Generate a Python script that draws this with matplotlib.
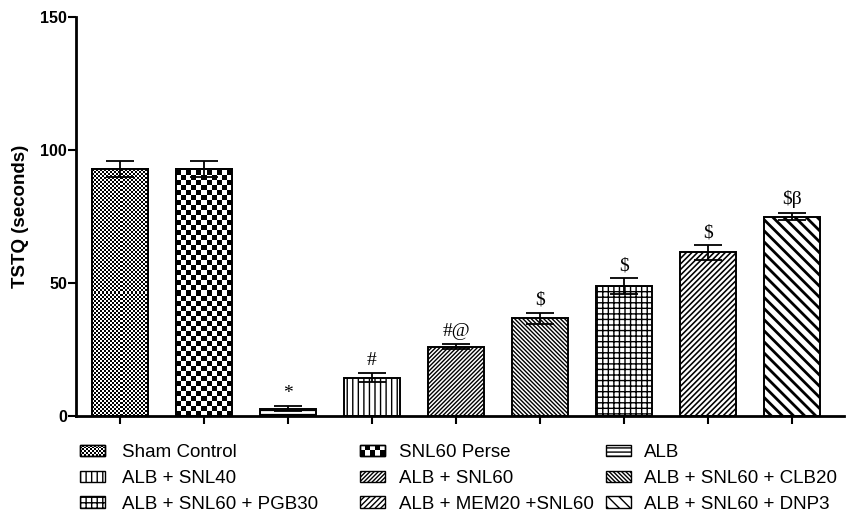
import numpy as np
import matplotlib
matplotlib.use("Agg")
import matplotlib.pyplot as plt
from matplotlib.patches import Patch, Rectangle
from matplotlib.legend_handler import HandlerBase

plt.rcParams["font.family"] = ["Liberation Sans", "DejaVu Sans"]
plt.rcParams["hatch.linewidth"] = 1.0
plt.rcParams["hatch.color"] = "black"

groups = ["Sham Control", "SNL60 Perse", "ALB", "ALB + SNL40", "ALB + SNL60",
          "ALB + SNL60 + CLB20", "ALB + SNL60 + PGB30", "ALB + MEM20 +SNL60",
          "ALB + SNL60 + DNP3"]
means = [93.0, 93.0, 2.8, 14.4, 26.0, 36.7, 48.9, 61.5, 75.0]
sems = [3.0, 3.0, 0.9, 1.6, 0.9, 2.2, 2.9, 2.7, 1.5]
marks = ["", "", "*", "#", "#@", "$", "$", "$", "$\u03b2"]
yticks = [0, 50, 100, 150]

# fill style per group: ("checker", cell_px) or ("hatch", pattern, hatch linewidth)
fills = [("checker", 2, None), ("checker", 5, None), ("hatch", "----", 1.0),
         ("hatch", "|||", 1.0), ("hatch", "////////", 1.0),
         ("hatch", "\\" * 8, 1.0), ("hatch", "+++", 1.0),
         ("hatch", "//////", 1.15), ("hatch", "\\\\\\", 2.0)]

W, H, DPI = 846, 513, 100
fig = plt.figure(figsize=(W / DPI, H / DPI), dpi=DPI)
ax = fig.add_axes([76 / W, 97 / H, 768 / W, 399 / H])
x = np.arange(len(groups))
ax.set_xlim(-0.524, 8.62)
ax.set_ylim(0, 150)

bars = ax.bar(x, means, width=0.67, facecolor="white", edgecolor="black",
              linewidth=1.4, zorder=2)


def checker_array(wpx, hpx, cell):
    xx = np.arange(wpx) // cell
    yy = np.arange(hpx) // cell
    return ((xx[None, :] + yy[:, None]) % 2).astype(float)


for b, (kind, spec, hlw) in zip(bars, fills):
    if kind == "hatch":
        b.set_hatch(spec)
        try:
            b.set_hatch_linewidth(hlw)
        except AttributeError:
            pass
    else:
        x0, y0 = b.get_x(), 0
        x1, y1 = b.get_x() + b.get_width(), b.get_height()
        p0 = ax.transData.transform((x0, y0))
        p1 = ax.transData.transform((x1, y1))
        wpx = int(round(p1[0] - p0[0]))
        hpx = int(round(p1[1] - p0[1]))
        arr = checker_array(wpx, hpx, spec)
        im = ax.imshow(arr, extent=(x0, x1, y0, y1), origin="lower",
                       cmap="gray", vmin=0, vmax=1, interpolation="nearest",
                       aspect="auto", zorder=2.1)
        im.set_clip_path(b)
        # outline above the image
        ax.add_patch(Rectangle((x0, y0), x1 - x0, y1 - y0, fill=False,
                               edgecolor="black", linewidth=1.4, zorder=2.2))

ax.set_xlim(-0.524, 8.62)
ax.set_ylim(0, 150)

ax.errorbar(x, means, yerr=sems, fmt="none", ecolor="black", elinewidth=1.3,
            capsize=10, capthick=1.3, zorder=3)

for xi, m, s, t in zip(x, means, sems, marks):
    if t:
        ax.annotate(t, (xi, m + s), xytext=(0, 3), textcoords="offset points",
                    ha="center", va="bottom", fontsize=14,
                    family=["Liberation Serif", "DejaVu Serif"])

for side in ("top", "right"):
    ax.spines[side].set_visible(False)
for side in ("left", "bottom"):
    ax.spines[side].set_linewidth(2)

ax.set_xticks(x)
ax.set_xticklabels([])
ax.tick_params(axis="x", length=6, width=1.5, direction="out")
ax.set_yticks(yticks)
ax.set_yticklabels([str(v) for v in yticks], fontsize=11.5, fontweight="bold")
ax.tick_params(axis="y", length=6, width=1.5, direction="out", pad=0.5)
ax.set_ylabel("TSTQ (seconds)", fontsize=13.5, fontweight="bold")
ax.yaxis.set_label_coords(-0.061, 0.5)


class CheckerHandler(HandlerBase):
    def __init__(self, cell_pt):
        super().__init__()
        self.cell = cell_pt

    def create_artists(self, legend, orig_handle, xdescent, ydescent,
                       width, height, fontsize, trans):
        x0, y0 = -xdescent, -ydescent
        arts = [Rectangle((x0, y0), width, height, facecolor="white",
                          edgecolor="black", linewidth=1.0, transform=trans)]
        nx = int(round(width / self.cell))
        ny = int(round(height / self.cell))
        cw, ch = width / nx, height / ny
        for i in range(nx):
            for j in range(ny):
                if (i + j) % 2 == 0:
                    arts.append(Rectangle((x0 + i * cw, y0 + j * ch), cw, ch,
                                          facecolor="black", edgecolor="none",
                                          transform=trans))
        arts.append(Rectangle((x0, y0), width, height, fill=False,
                              edgecolor="black", linewidth=1.0, transform=trans))
        return arts


handles = []
handler_map = {}
for (kind, spec, hlw), g in zip(fills, groups):
    if kind == "hatch":
        h = Patch(facecolor="white", edgecolor="black", hatch=spec, linewidth=1.0)
        try:
            h.set_hatch_linewidth(min(hlw, 1.3))
        except AttributeError:
            pass
    else:
        h = Patch(facecolor="white", edgecolor="black")
        handler_map[h] = CheckerHandler(spec * 72 / DPI)
    handles.append(h)

# three legend columns, filled row by row from the group order
col_x = [80, 360, 606]
col_pad = [0.9, 0.75, 0.7]
fs = 13.5
for c in range(3):
    idx = [c, c + 3, c + 6]
    fig.legend([handles[i] for i in idx], [groups[i] for i in idx],
               handler_map=handler_map, loc="upper left",
               bbox_to_anchor=(col_x[c] / W, 1 - 444 / H),
               frameon=False, fontsize=fs, borderpad=0, borderaxespad=0,
               handlelength=1.35, handleheight=0.55,
               handletextpad=col_pad[c], labelspacing=0.47)

fig.savefig("out.png", dpi=DPI)
